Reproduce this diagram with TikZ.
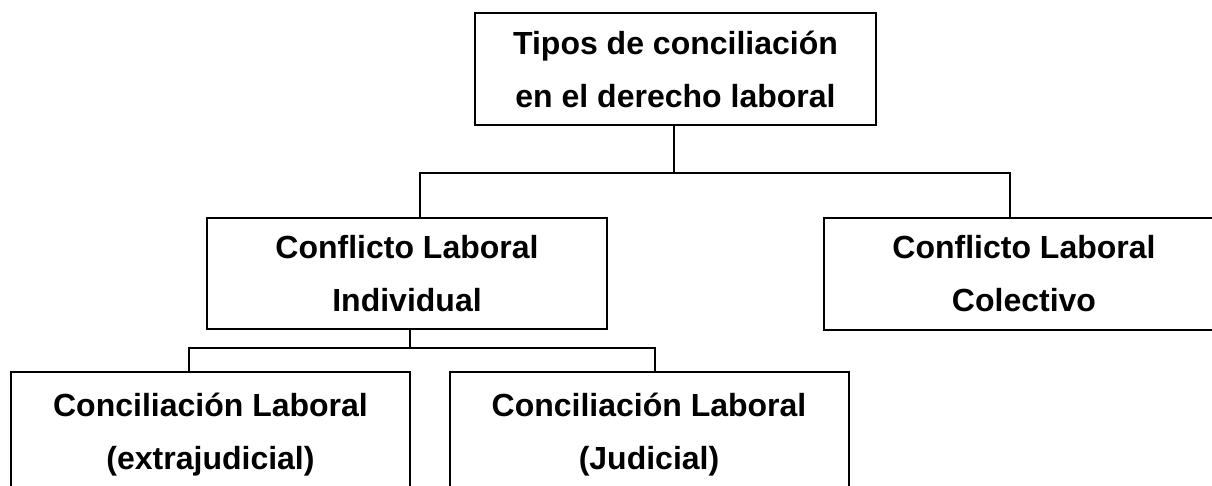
\documentclass[tikz,border=0pt]{standalone}
\usepackage{fontspec}
\setmainfont{Liberation Sans}
\usetikzlibrary{positioning}
\tikzstyle{tipo} = [
    rectangle,
    draw=black,
    line width=2pt,
    minimum width=400pt,
    minimum height=112pt,
    inner sep=0pt,
    align=center,
    font=\fontsize{32}{53}\selectfont\bfseries
]
\tikzstyle{linea} = [
    line width=2pt
]

\begin{document}
\begin{tikzpicture}[x=1pt,y=-1pt]
\useasboundingbox (0,0) rectangle (1212,486);
\clip (0,0) rectangle (1212,486);

\node (tipos) [tipo, minimum width=401pt] at (675.5,69) {Tipos de conciliación\\en el derecho laboral};
\node (indiv) [tipo, minimum height=111pt] at (407,273.5) {Conflicto Laboral\\Individual};
\node (colec) [tipo] at (1024,274) {Conflicto Laboral\\Colectivo};
\node (extra) [tipo, minimum width=399pt, minimum height=126pt] at (210.5,435) {Conciliación Laboral\\(extrajudicial)};
\node (judic) [tipo, minimum width=399pt, minimum height=126pt] at (649,435) {Conciliación Laboral\\(Judicial)};

\draw[linea] ([xshift=-1.5pt]tipos.south) -- ++(0,47) coordinate (busA);
\draw[linea] ([xshift=13pt]indiv.north) |- (busA) -| ([xshift=-14pt]colec.north);
\draw[linea] ([xshift=3pt]indiv.south) -- ++(0,18) coordinate (busB);
\draw[linea] ([xshift=-22pt]extra.north) |- (busB) -| ([xshift=6pt]judic.north);

\end{tikzpicture}
\end{document}
